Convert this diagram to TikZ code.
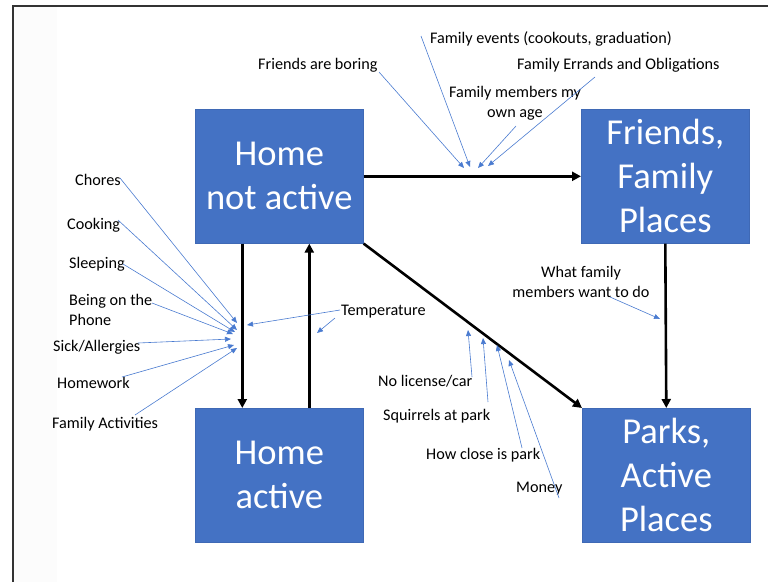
\documentclass[tikz,border=0pt]{standalone}
\usepackage{fontspec}
\setmainfont{Carlito}
\usetikzlibrary{arrows.meta}
\definecolor{obox}{HTML}{4472C4}
\definecolor{oedge}{HTML}{3F69B5}
\definecolor{hintc}{HTML}{4A7BD0}
\begin{document}
\begin{tikzpicture}[x=1pt,y=-1pt,
  box/.style={rectangle, fill=obox, draw=oedge, line width=0.6pt, text=white,
    font=\fontsize{36.5}{44}\selectfont, align=center, minimum width=168pt,
    minimum height=134pt, inner sep=0pt, anchor=north west},
  lbl/.style={font=\fontsize{16.2}{19.5}\selectfont, text=black, inner sep=0pt},
  flow/.style={line width=2.6pt, -{Triangle[length=9pt,width=9pt]}},
  hint/.style={draw=hintc, line width=0.6pt, -{Triangle[length=6pt,width=5pt]}}]

\useasboundingbox (0,0) rectangle (768,582);
\fill[black!1.2] (13,6) rectangle (57,582);
\draw[line width=2pt, black!80] (13,582) -- (13,6) -- (768,6);

% boxes
\node[box] (hna) at (195,109) {Home\\not active};
\node[box] (ffp) at (581,109) {Friends,\\Family\\Places};
\node[box] (ha)  at (195,408) {Home\\active};
\node[box] (pap) at (582,408) {Parks,\\Active\\Places};

% main connectors
\draw[flow] (hna.east) -- (ffp.west);
\draw[flow] ([xshift=-37pt]hna.south) -- ([xshift=-37pt]hna.south |- ha.north);
\draw[flow] ([xshift=30pt]hna.south |- ha.north) -- ([xshift=30pt]hna.south);
\draw[flow] (hna.south east) -- (pap.north west);
\draw[flow] (ffp.south) -- (pap.north);

% labels (multi-line: base anchor is the last line)
\node[lbl, anchor=base west] (fab) at (258,69) {Friends are boring};
\node[lbl, anchor=base west] (fev) at (430,43) {Family events (cookouts, graduation)};
\node[lbl, anchor=base west] (fer) at (517,69) {Family Errands and Obligations};
\node[lbl, anchor=base, align=center] (fmm) at (515,117) {Family members my\\own age};

\node[lbl, anchor=base west] (cho) at (75,185) {Chores};
\node[lbl, anchor=base west] (coo) at (67,229) {Cooking};
\node[lbl, anchor=base west] (sle) at (69,268) {Sleeping};
\node[lbl, anchor=base west, align=left] (pho) at (69,325) {Being on the\\Phone};
\node[lbl, anchor=base west] (sic) at (53,351) {Sick/Allergies};
\node[lbl, anchor=base west] (hom) at (57,388) {Homework};
\node[lbl, anchor=base west] (fac) at (52,428) {Family Activities};

\node[lbl, anchor=base west] (tem) at (341,315) {Temperature};
\node[lbl, anchor=base, align=center] (wfm) at (581,297) {What family\\members want to do};

\node[lbl, anchor=base west] (nlc) at (378,386) {No license/car};
\node[lbl, anchor=base west] (squ) at (383,420) {Squirrels at park};
\node[lbl, anchor=base west] (hcp) at (426,459) {How close is park};
\node[lbl, anchor=base west] (mon) at (516,492) {Money};

% hint arrow end points
\coordinate (t1s) at (379,72);  \coordinate (t1e) at (464,168);
\coordinate (t2s) at (421,36);  \coordinate (t2e) at (470,167);
\coordinate (t3s) at (516,126); \coordinate (t3e) at (478,168);
\coordinate (t4s) at (595,77);  \coordinate (t4e) at (488,166);

\coordinate (l1s) at (120,178); \coordinate (l1e) at (237,323);
\coordinate (l2s) at (118,220); \coordinate (l2e) at (237,330);
\coordinate (l3s) at (123,264); \coordinate (l3e) at (235,332);
\coordinate (l4s) at (152,303); \coordinate (l4e) at (233,334);
\coordinate (l5s) at (138,343); \coordinate (l5e) at (231,339);
\coordinate (l6s) at (122,377); \coordinate (l6e) at (234,345);
\coordinate (l7s) at (135,415); \coordinate (l7e) at (237,348);

\coordinate (m1s) at (340,310); \coordinate (m1e) at (247,325);
\coordinate (m2s) at (335,318); \coordinate (m2e) at (317,333);

\coordinate (b1s) at (472,377); \coordinate (b1e) at (468,330);
\coordinate (b2s) at (488,402); \coordinate (b2e) at (483,338);
\coordinate (b3s) at (522,448); \coordinate (b3e) at (497,345);
\coordinate (b4s) at (559,498); \coordinate (b4e) at (509,360);

\coordinate (w1s) at (610,297); \coordinate (w1e) at (660,319);

\foreach \a in {t1,t2,t3,t4,l1,l2,l3,l4,l5,l6,l7,m1,m2,b1,b2,b3,b4,w1}
  \draw[hint] (\a s) -- (\a e);
\end{tikzpicture}
\end{document}
